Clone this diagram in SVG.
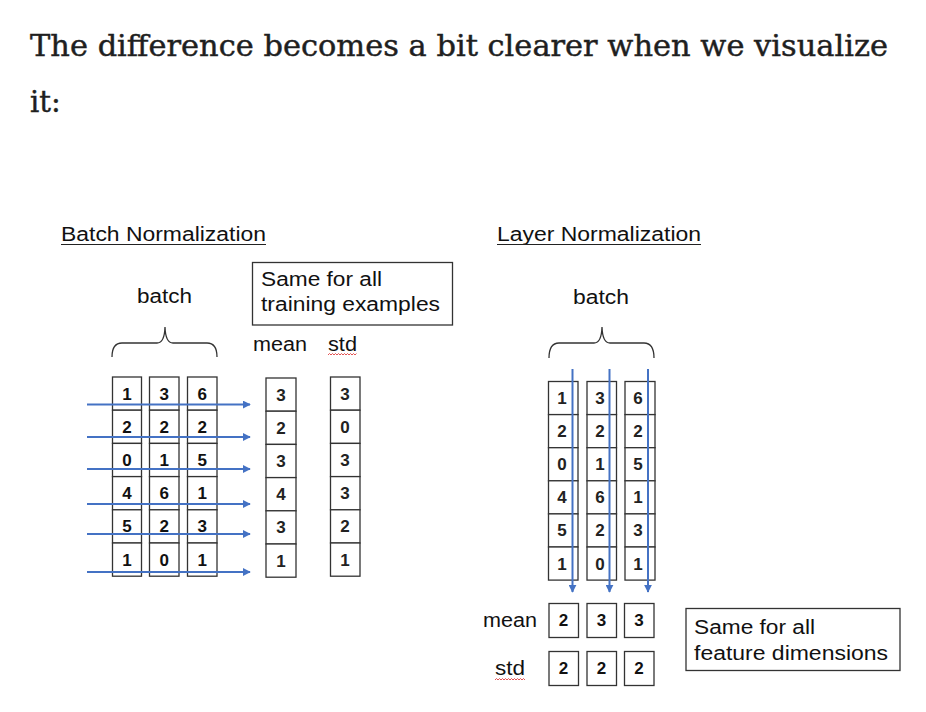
<svg xmlns="http://www.w3.org/2000/svg" width="926" height="712" viewBox="0 0 926 712">
<style>
.title{font-family:"DejaVu Serif","Liberation Serif",serif;font-size:29px;fill:#1f1f1f;stroke:#1f1f1f;stroke-width:0.45}
.lbl{font-family:"Liberation Sans",Arial,sans-serif;fill:#111}
.h{font-size:20px}
.t{font-size:20px}
.cell{fill:#fff;stroke:#333;stroke-width:1.3}
.num{font-family:"Liberation Sans",Arial,sans-serif;font-size:17px;font-weight:bold;fill:#111;text-anchor:middle}
.numr{font-family:"Liberation Sans",Arial,sans-serif;font-size:17px;font-weight:bold;fill:#222;text-anchor:middle}
.ul{stroke:#222;stroke-width:1.2}
.brace{fill:none;stroke:#333;stroke-width:1.3}
.note{fill:#fff;stroke:#333;stroke-width:1.3}
.arr{stroke:#4472C4;stroke-width:2;fill:none;marker-end:url(#ah)}
.sq{fill:none;stroke:#e04040;stroke-width:0.9}
</style>
<defs>
<marker id="ah" viewBox="0 0 10 10" refX="9" refY="5" markerWidth="4" markerHeight="4" orient="auto" markerUnits="strokeWidth">
<path d="M0,0 L10,5 L0,10 z" fill="#4472C4"/>
</marker>
</defs>
<rect width="926" height="712" fill="#fff"/>

<g id="title">
<text class="title" x="30" y="56" textLength="858" lengthAdjust="spacingAndGlyphs">The difference becomes a bit clearer when we visualize</text>
<text class="title" x="30" y="112">it:</text>
</g>

<!-- Batch Normalization -->
<g id="bn-heading">
<text class="lbl h" x="61" y="241" textLength="205" lengthAdjust="spacingAndGlyphs">Batch Normalization</text>
<line class="ul" x1="61" y1="244.5" x2="266" y2="244.5"/>
</g>
<g id="bn-batch">
<text class="lbl t" x="137" y="303" textLength="55" lengthAdjust="spacingAndGlyphs">batch</text>
<path class="brace" d="M112,357 Q112,343 122,343 L157,343 Q164.5,343 165,327 Q165.5,343 173,343 L207,343 Q217,343 217,357"/>
</g>
<g id="bn-note">
<rect class="note" x="252.5" y="262.5" width="200" height="62.5"/>
<text class="lbl t" x="261" y="286" textLength="121" lengthAdjust="spacingAndGlyphs">Same for all</text>
<text class="lbl t" x="261" y="311" textLength="179" lengthAdjust="spacingAndGlyphs">training examples</text>
</g>
<g id="bn-mean-label"><text class="lbl t" x="253" y="351" textLength="54" lengthAdjust="spacingAndGlyphs">mean</text></g>
<g id="bn-std-label">
<text class="lbl t" x="328" y="351" textLength="29" lengthAdjust="spacingAndGlyphs">std</text>
<path class="sq" d="M328,355 l1.5,-1.5 l1.5,1.5 l1.5,-1.5 l1.5,1.5 l1.5,-1.5 l1.5,1.5 l1.5,-1.5 l1.5,1.5 l1.5,-1.5 l1.5,1.5 l1.5,-1.5 l1.5,1.5 l1.5,-1.5 l1.5,1.5 l1.5,-1.5 l1.5,1.5 l1.5,-1.5 l1.5,1.5 l1.5,-1.5"/>
</g>

<g id="bn-col1">
<rect class="cell" x="112.5" y="377" width="29" height="33.2"/><rect class="cell" x="112.5" y="410.2" width="29" height="33.2"/><rect class="cell" x="112.5" y="443.4" width="29" height="33.2"/><rect class="cell" x="112.5" y="476.6" width="29" height="33.2"/><rect class="cell" x="112.5" y="509.8" width="29" height="33.2"/><rect class="cell" x="112.5" y="543" width="29" height="33.2"/>
<text class="num" x="127" y="399.5">1</text><text class="num" x="127" y="432.7">2</text><text class="num" x="127" y="465.9">0</text><text class="num" x="127" y="499.1">4</text><text class="num" x="127" y="532.3">5</text><text class="num" x="127" y="565.5">1</text>
</g>
<g id="bn-col2">
<rect class="cell" x="149.5" y="377" width="29.5" height="33.2"/><rect class="cell" x="149.5" y="410.2" width="29.5" height="33.2"/><rect class="cell" x="149.5" y="443.4" width="29.5" height="33.2"/><rect class="cell" x="149.5" y="476.6" width="29.5" height="33.2"/><rect class="cell" x="149.5" y="509.8" width="29.5" height="33.2"/><rect class="cell" x="149.5" y="543" width="29.5" height="33.2"/>
<text class="num" x="164.3" y="399.5">3</text><text class="num" x="164.3" y="432.7">2</text><text class="num" x="164.3" y="465.9">1</text><text class="num" x="164.3" y="499.1">6</text><text class="num" x="164.3" y="532.3">2</text><text class="num" x="164.3" y="565.5">0</text>
</g>
<g id="bn-col3">
<rect class="cell" x="187.5" y="377" width="29.5" height="33.2"/><rect class="cell" x="187.5" y="410.2" width="29.5" height="33.2"/><rect class="cell" x="187.5" y="443.4" width="29.5" height="33.2"/><rect class="cell" x="187.5" y="476.6" width="29.5" height="33.2"/><rect class="cell" x="187.5" y="509.8" width="29.5" height="33.2"/><rect class="cell" x="187.5" y="543" width="29.5" height="33.2"/>
<text class="num" x="202.3" y="399.5">6</text><text class="num" x="202.3" y="432.7">2</text><text class="num" x="202.3" y="465.9">5</text><text class="num" x="202.3" y="499.1">1</text><text class="num" x="202.3" y="532.3">3</text><text class="num" x="202.3" y="565.5">1</text>
</g>
<g id="bn-mean">
<rect class="cell" x="266" y="378" width="30" height="33.2"/><rect class="cell" x="266" y="411.2" width="30" height="33.2"/><rect class="cell" x="266" y="444.4" width="30" height="33.2"/><rect class="cell" x="266" y="477.6" width="30" height="33.2"/><rect class="cell" x="266" y="510.8" width="30" height="33.2"/><rect class="cell" x="266" y="544" width="30" height="33.2"/>
<text class="numr" x="281" y="400.5">3</text><text class="numr" x="281" y="433.7">2</text><text class="numr" x="281" y="466.9">3</text><text class="numr" x="281" y="500.1">4</text><text class="numr" x="281" y="533.3">3</text><text class="numr" x="281" y="566.5">1</text>
</g>
<g id="bn-std">
<rect class="cell" x="330.5" y="377" width="29.5" height="33.2"/><rect class="cell" x="330.5" y="410.2" width="29.5" height="33.2"/><rect class="cell" x="330.5" y="443.4" width="29.5" height="33.2"/><rect class="cell" x="330.5" y="476.6" width="29.5" height="33.2"/><rect class="cell" x="330.5" y="509.8" width="29.5" height="33.2"/><rect class="cell" x="330.5" y="543" width="29.5" height="33.2"/>
<text class="numr" x="345" y="399.5">3</text><text class="numr" x="345" y="432.7">0</text><text class="numr" x="345" y="465.9">3</text><text class="numr" x="345" y="499.1">3</text><text class="numr" x="345" y="532.3">2</text><text class="numr" x="345" y="565.5">1</text>
</g>

<!-- Layer Normalization -->
<g id="ln-heading">
<text class="lbl h" x="497" y="241" textLength="204" lengthAdjust="spacingAndGlyphs">Layer Normalization</text>
<line class="ul" x1="497" y1="244.5" x2="701" y2="244.5"/>
</g>
<g id="ln-batch">
<text class="lbl t" x="573" y="304" textLength="56" lengthAdjust="spacingAndGlyphs">batch</text>
<path class="brace" d="M549,358 Q549,343 559,343 L594,343 Q601.5,343 602,327 Q602.5,343 610,343 L644,343 Q654,343 654,358"/>
</g>
<g id="ln-col1">
<rect class="cell" x="548.5" y="381.5" width="29.5" height="33.1"/><rect class="cell" x="548.5" y="414.6" width="29.5" height="33.1"/><rect class="cell" x="548.5" y="447.7" width="29.5" height="33.1"/><rect class="cell" x="548.5" y="480.8" width="29.5" height="33.1"/><rect class="cell" x="548.5" y="513.9" width="29.5" height="33.1"/><rect class="cell" x="548.5" y="547" width="29.5" height="33.1"/>
<text class="numr" x="562" y="404">1</text><text class="numr" x="562" y="437.1">2</text><text class="numr" x="562" y="470.2">0</text><text class="numr" x="562" y="503.3">4</text><text class="numr" x="562" y="536.4">5</text><text class="numr" x="562" y="569.5">1</text>
</g>
<g id="ln-col2">
<rect class="cell" x="587" y="381.5" width="29.5" height="33.1"/><rect class="cell" x="587" y="414.6" width="29.5" height="33.1"/><rect class="cell" x="587" y="447.7" width="29.5" height="33.1"/><rect class="cell" x="587" y="480.8" width="29.5" height="33.1"/><rect class="cell" x="587" y="513.9" width="29.5" height="33.1"/><rect class="cell" x="587" y="547" width="29.5" height="33.1"/>
<text class="numr" x="600" y="404">3</text><text class="numr" x="600" y="437.1">2</text><text class="numr" x="600" y="470.2">1</text><text class="numr" x="600" y="503.3">6</text><text class="numr" x="600" y="536.4">2</text><text class="numr" x="600" y="569.5">0</text>
</g>
<g id="ln-col3">
<rect class="cell" x="625" y="381.5" width="30" height="33.1"/><rect class="cell" x="625" y="414.6" width="30" height="33.1"/><rect class="cell" x="625" y="447.7" width="30" height="33.1"/><rect class="cell" x="625" y="480.8" width="30" height="33.1"/><rect class="cell" x="625" y="513.9" width="30" height="33.1"/><rect class="cell" x="625" y="547" width="30" height="33.1"/>
<text class="numr" x="638" y="404">6</text><text class="numr" x="638" y="437.1">2</text><text class="numr" x="638" y="470.2">5</text><text class="numr" x="638" y="503.3">1</text><text class="numr" x="638" y="536.4">3</text><text class="numr" x="638" y="569.5">1</text>
</g>
<g id="ln-mean">
<text class="lbl t" x="483" y="627" textLength="54" lengthAdjust="spacingAndGlyphs">mean</text>
<rect class="cell" x="549" y="603.5" width="29.5" height="34"/><rect class="cell" x="587" y="603.5" width="29.5" height="34"/><rect class="cell" x="624.5" y="603.5" width="29.5" height="34"/>
<text class="num" x="563.5" y="626">2</text><text class="num" x="601.5" y="626">3</text><text class="num" x="639" y="626">3</text>
</g>
<g id="ln-std">
<text class="lbl t" x="495" y="675" textLength="30" lengthAdjust="spacingAndGlyphs">std</text>
<path class="sq" d="M495,680 l1.5,-1.5 l1.5,1.5 l1.5,-1.5 l1.5,1.5 l1.5,-1.5 l1.5,1.5 l1.5,-1.5 l1.5,1.5 l1.5,-1.5 l1.5,1.5 l1.5,-1.5 l1.5,1.5 l1.5,-1.5 l1.5,1.5 l1.5,-1.5 l1.5,1.5 l1.5,-1.5 l1.5,1.5 l1.5,-1.5 l1.5,1.5"/>
<rect class="cell" x="549" y="651.5" width="29.5" height="34"/><rect class="cell" x="587" y="651.5" width="29.5" height="34"/><rect class="cell" x="624.5" y="651.5" width="29.5" height="34"/>
<text class="num" x="563.5" y="674">2</text><text class="num" x="601.5" y="674">2</text><text class="num" x="639" y="674">2</text>
</g>
<g id="ln-note">
<rect class="note" x="686" y="608.5" width="214" height="62"/>
<text class="lbl t" x="694" y="634" textLength="121" lengthAdjust="spacingAndGlyphs">Same for all</text>
<text class="lbl t" x="694" y="660" textLength="194" lengthAdjust="spacingAndGlyphs">feature dimensions</text>
</g>

<g id="connectors">
<line class="arr" x1="87" y1="404.5" x2="250" y2="404.5"/>
<line class="arr" x1="87" y1="437" x2="250" y2="437"/>
<line class="arr" x1="87" y1="469" x2="250" y2="469"/>
<line class="arr" x1="87" y1="504" x2="250" y2="504"/>
<line class="arr" x1="87" y1="534" x2="250" y2="534"/>
<line class="arr" x1="87" y1="572" x2="250" y2="572"/>
<line class="arr" x1="572.5" y1="369" x2="572.5" y2="592"/>
<line class="arr" x1="609.5" y1="369" x2="609.5" y2="592"/>
<line class="arr" x1="648" y1="369" x2="648" y2="592"/>
</g>
</svg>
